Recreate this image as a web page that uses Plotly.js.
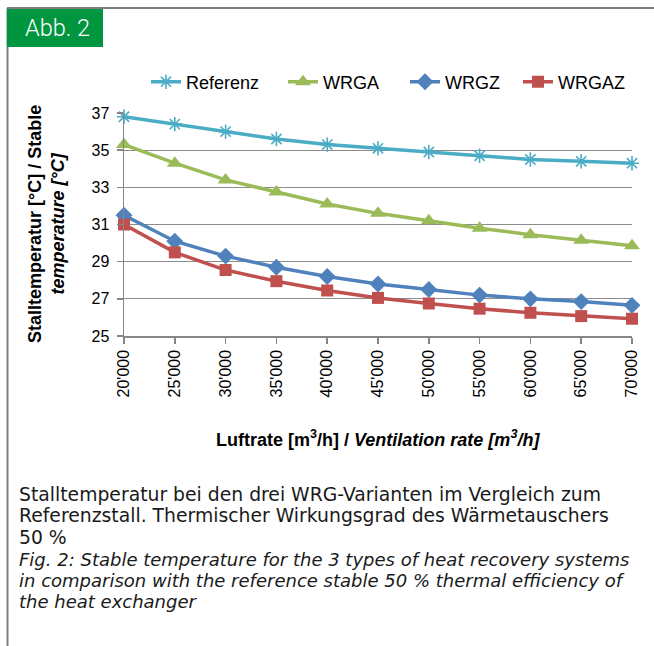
<!DOCTYPE html>
<html>
<head>
<meta charset="utf-8">
<script src="https://cdn.plot.ly/plotly-3.0.1.min.js"></script>
<style>
html,body{margin:0;padding:0;background:#fff;}
#chart{width:654px;height:646px;}
</style>
</head>
<body>
<div id="chart"></div>
<script>
const airflow = [20000, 25000, 30000, 35000, 40000, 45000, 50000, 55000, 60000, 65000, 70000];
const airflowLabels = ["20'000", "25'000", "30'000", "35'000", "40'000", "45'000", "50'000", "55'000", "60'000", "65'000", "70'000"];
const referenz = [36.8, 36.4, 36.0, 35.6, 35.3, 35.1, 34.9, 34.7, 34.5, 34.4, 34.3];
const wrga = [35.3, 34.3, 33.4, 32.75, 32.1, 31.6, 31.2, 30.8, 30.45, 30.15, 29.85];
const wrgz = [31.5, 30.1, 29.3, 28.7, 28.2, 27.8, 27.5, 27.2, 27.0, 26.85, 26.65];
const wrgaz = [31.0, 29.5, 28.55, 27.95, 27.45, 27.05, 26.75, 26.47, 26.25, 26.07, 25.93];
const yTicks = [25, 27, 29, 31, 33, 35, 37];

// plot area in pixels
const L = 124, R = 632, T = 113, B = 336;
const px = v => (v - L) / (R - L);
const py = v => (B - v) / (B - T);

const font = "Liberation Sans, Arial, sans-serif";
const capFont = "DejaVu Sans, Liberation Sans, sans-serif";
const boxFont = "Roboto, Liberation Sans, sans-serif";

function tr(name, y, color, symbol, size, extra) {
  return Object.assign({
    type: 'scatter', mode: 'lines+markers', name: name, x: airflow, y: y,
    cliponaxis: false,
    line: {color: color, width: 3.5},
    marker: {symbol: symbol, size: size, color: color, line: {width: 0, color: color}}
  }, extra || {});
}

const data = [
  tr('Referenz', referenz, '#4BACC6', 'asterisk-open', 12, {marker: {symbol: 'asterisk-open', size: 12, color: '#4BACC6', line: {width: 1.6, color: '#4BACC6'}}, legend: 'legend'}),
  tr('WRGA', wrga, '#9BBB59', 'triangle-up', 14, {legend: 'legend2'}),
  tr('WRGZ', wrgz, '#4F81BD', 'diamond', 13, {legend: 'legend3'}),
  tr('WRGAZ', wrgaz, '#C0504D', 'square', 12, {legend: 'legend4'})
];

function leg(xpix) {
  return {x: px(xpix), y: py(82), xanchor: 'left', yanchor: 'middle', orientation: 'h',
    bgcolor: 'rgba(0,0,0,0)', font: {family: font, size: 18, color: '#000'}, itemwidth: 30,
    tracegroupgap: 0};
}

const captionLines = [
  {t: "Stalltemperatur bei den drei WRG-Varianten im Vergleich zum", y: 494, i: false},
  {t: "Referenzstall. Thermischer Wirkungsgrad des Wärmetauschers", y: 515.5, i: false},
  {t: "50 %", y: 537, i: false},
  {t: "Fig. 2: Stable temperature for the 3 types of heat recovery systems", y: 559.5, i: true},
  {t: "in comparison with the reference stable 50 % thermal efficiency of", y: 580.5, i: true},
  {t: "the heat exchanger", y: 601.5, i: true}
];

const annotations = captionLines.map(c => ({
  xref: 'paper', yref: 'paper', x: px(17), y: py(c.y), xanchor: 'left', yanchor: 'middle',
  showarrow: false, text: c.i ? '<i>' + c.t + '</i>' : c.t,
  font: {family: capFont, size: c.i ? 18 : 18.8, color: '#1a1a1a'}
}));

annotations.push({
  xref: 'paper', yref: 'paper', x: px(23), y: py(28), xanchor: 'left', yanchor: 'middle',
  showarrow: false, text: 'Abb. 2', font: {family: boxFont, size: 23.5, color: '#ffffff', weight: 300}
});

annotations.push({
  xref: 'paper', yref: 'paper', x: px(46), y: py(224), xanchor: 'center', yanchor: 'middle',
  showarrow: false, textangle: -90,
  text: '<b>Stalltemperatur [°C] / Stable</b><br><b><i>temperature [°C]</i></b>',
  font: {family: font, size: 18, color: '#000'}
});

annotations.push({
  xref: 'paper', yref: 'paper', x: px(378), y: py(438), xanchor: 'center', yanchor: 'middle',
  showarrow: false,
  text: '<b>Luftrate [m<sup>3</sup>/h] / <i>Ventilation rate [m<sup>3</sup>/h]</i></b>',
  font: {family: font, size: 18, color: '#000'}
});

const shapes = [
  {type: 'line', xref: 'paper', yref: 'paper', x0: px(7.5), x1: px(7.5), y0: py(8), y1: py(646), line: {color: '#7f7f7f', width: 2}},
  {type: 'line', xref: 'paper', yref: 'paper', x0: px(7), x1: px(654), y0: py(8), y1: py(8), line: {color: '#7f7f7f', width: 2}},
  {type: 'rect', xref: 'paper', yref: 'paper', x0: px(7), x1: px(103), y0: py(47), y1: py(9), fillcolor: '#00963f', line: {width: 0}}
];

const layout = {
  width: 654, height: 646,
  margin: {l: L, r: 654 - R, t: T, b: 646 - B, pad: 0},
  paper_bgcolor: '#fff', plot_bgcolor: 'rgba(0,0,0,0)',
  showlegend: true,
  legend: leg(146), legend2: leg(283), legend3: leg(405), legend4: leg(518),
  xaxis: {
    range: [20000, 70000], tickvals: airflow, ticktext: airflowLabels, tickangle: -90,
    showgrid: false, zeroline: false, showline: true, linecolor: '#868686', linewidth: 1.5,
    ticks: 'outside', ticklen: 6, tickcolor: '#868686', tickwidth: 1.5,
    tickfont: {family: font, size: 16, color: '#000'}, fixedrange: true
  },
  yaxis: {
    range: [25, 37], tickvals: yTicks, ticktext: yTicks.map(String),
    showgrid: true, gridcolor: '#8c8c8c', gridwidth: 1.2, zeroline: false,
    showline: true, linecolor: '#868686', linewidth: 1.5,
    ticks: 'outside', ticklen: 6, tickcolor: '#868686', tickwidth: 1.5, ticklabelstandoff: 4,
    tickfont: {family: font, size: 16, color: '#000'}, fixedrange: true
  },
  annotations: annotations,
  shapes: shapes
};

Plotly.newPlot('chart', data, layout, {displayModeBar: false, staticPlot: true});
</script>
</body>
</html>
